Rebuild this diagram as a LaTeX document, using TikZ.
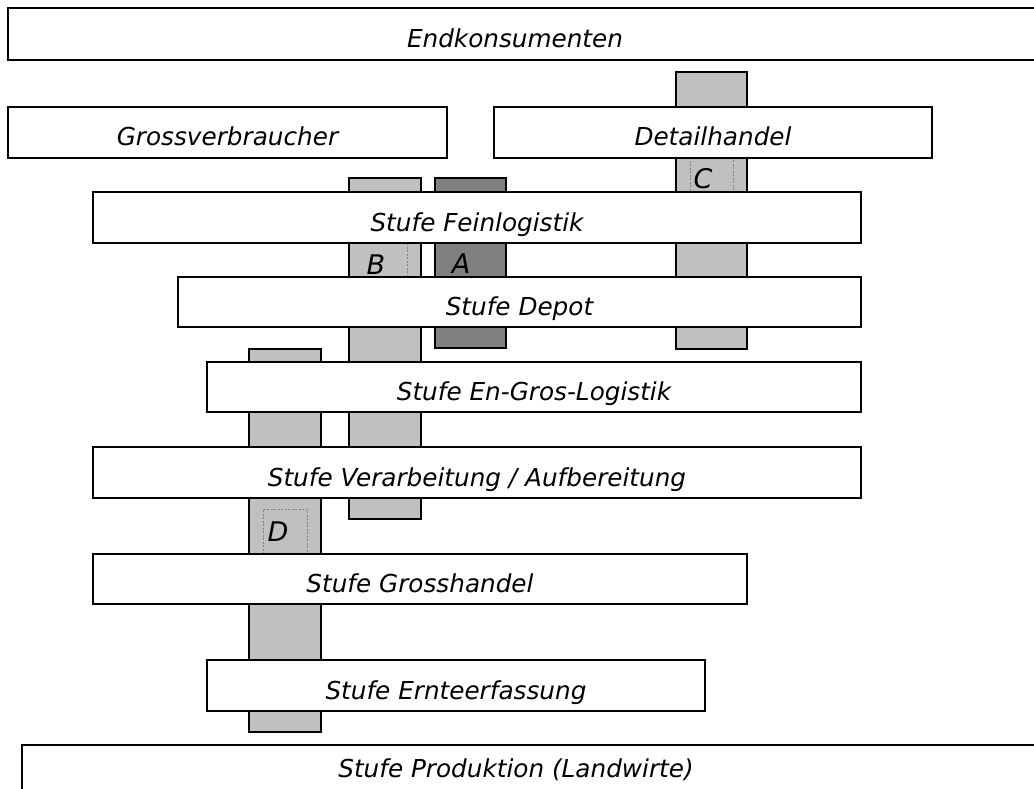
\documentclass[tikz,border=0pt]{standalone}
\usepackage{fontspec}
\setmainfont{DejaVu Sans}
\definecolor{barlight}{HTML}{C0C0C0}
\definecolor{bardark}{HTML}{808080}
\definecolor{framegray}{HTML}{808080}
\tikzset{
  stage/.style={draw=black, line width=1.4pt, fill=white, inner sep=0pt, outer sep=0pt, anchor=north west},
  barbox/.style={draw=black, line width=1.3pt, inner sep=0pt, outer sep=0pt, anchor=north west},
  lbl/.style={font=\itshape\fontsize{24.7}{28}\selectfont, inner sep=0pt, anchor=base},
  letter/.style={font=\itshape\fontsize{27}{30}\selectfont, inner sep=0pt},
  tframe/.style={draw=framegray, line width=0.6pt, dash pattern=on 2pt off 1.5pt, inner sep=0pt, outer sep=0pt, anchor=north west}
}
\begin{document}
\begin{tikzpicture}[x=1pt,y=-1pt]
\useasboundingbox (0,0) rectangle (1034,789);
\clip (0,0) rectangle (1034,789);
% vertical bars (behind the stages)
\node[barbox, fill=barlight, minimum width=71pt, minimum height=277pt] (barC) at (676,72) {};
\node[barbox, fill=barlight, minimum width=72pt, minimum height=341pt] (barB) at (349,178) {};
\node[barbox, fill=bardark, minimum width=71pt, minimum height=170pt] (barA) at (435,178) {};
\node[barbox, fill=barlight, minimum width=72pt, minimum height=383pt] (barD) at (249,349) {};
% dashed text frames and letters
\node[tframe, minimum width=43pt, minimum height=50pt] (frC) at (690,150) {};
\node[tframe, minimum width=58pt, minimum height=50pt] (frB) at (349,235) {};
\node[tframe, minimum width=44pt, minimum height=51pt] (frD) at (263,509) {};
\draw[barbox, fill=none] (barB.north west) -- (barB.south west);
\node[letter] (lC) at (703,179) {C};
\node[letter] (lB) at (376,265) {B};
\node[letter] (lA) at (461,264) {A};
\node[letter] (lD) at (278,532) {D};
% stage boxes
\node[stage, minimum width=1300pt, minimum height=52pt] (endk) at (8,8) {};
\node[stage, minimum width=439pt, minimum height=51pt] (gross) at (8,107) {};
\node[stage, minimum width=438pt, minimum height=51pt] (detail) at (494,107) {};
\node[stage, minimum width=768pt, minimum height=51pt] (fein) at (93,192) {};
\node[stage, minimum width=683pt, minimum height=50pt] (depot) at (178,277) {};
\node[stage, minimum width=654pt, minimum height=50pt] (engros) at (207,362) {};
\node[stage, minimum width=768pt, minimum height=51pt] (verarb) at (93,447) {};
\node[stage, minimum width=654pt, minimum height=50pt] (grossh) at (93,554) {};
\node[stage, minimum width=498pt, minimum height=51pt] (ernte) at (207,660) {};
\node[stage, minimum width=1300pt, minimum height=80pt] (prod) at (22,745) {};
% labels
\node[lbl] (endk-t) at (515,47.5) {Endkonsumenten};
\node[lbl] (gross-t) at ([yshift=-13.5pt]gross.center) {Grossverbraucher};
\node[lbl] (detail-t) at ([yshift=-13.5pt]detail.center) {Detailhandel};
\node[lbl] (fein-t) at ([yshift=-13.5pt]fein.center) {Stufe Feinlogistik};
\node[lbl] (depot-t) at ([yshift=-13.5pt]depot.center) {Stufe Depot};
\node[lbl] (engros-t) at ([yshift=-13.5pt]engros.center) {Stufe En-Gros-Logistik};
\node[lbl] (verarb-t) at ([yshift=-13.5pt]verarb.center) {Stufe Verarbeitung / Aufbereitung};
\node[lbl] (grossh-t) at ([yshift=-13.5pt]grossh.center) {Stufe Grosshandel};
\node[lbl] (ernte-t) at ([yshift=-13.5pt]ernte.center) {Stufe Ernteerfassung};
\node[lbl] (prod-t) at (516,777) {Stufe Produktion (Landwirte)};
\end{tikzpicture}
\end{document}
